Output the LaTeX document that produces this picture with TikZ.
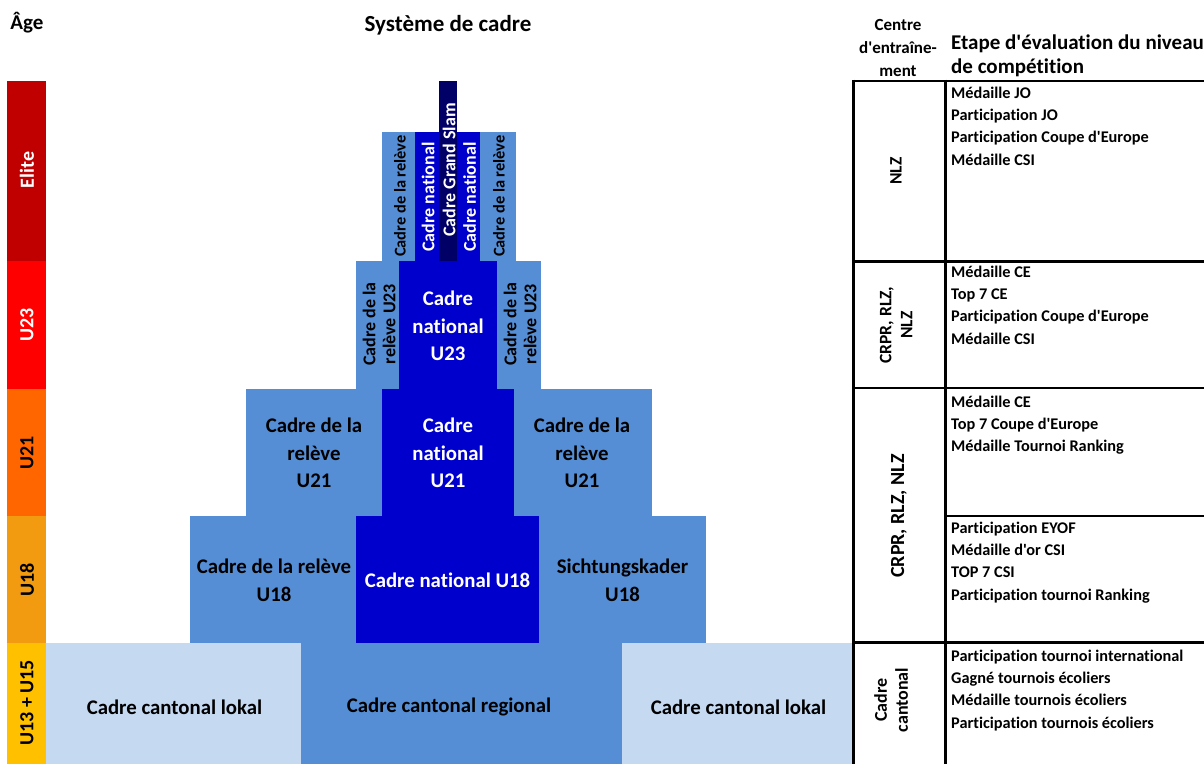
\documentclass[tikz,border=0pt]{standalone}
\usepackage{fontspec}
\setmainfont{Carlito}[Ligatures={TeXOff,CommonOff}]
\definecolor{eliteage}{HTML}{C00000}
\definecolor{xxiiiage}{HTML}{FF0000}
\definecolor{xxiage}{HTML}{FF6600}
\definecolor{xviiiage}{HTML}{F29B11}
\definecolor{xvage}{HTML}{FFC000}
\definecolor{relblue}{HTML}{558ED5}
\definecolor{natblue}{HTML}{0000CC}
\definecolor{slamblue}{HTML}{000066}
\definecolor{cantblue}{HTML}{C5D9F1}

\begin{document}
\begin{tikzpicture}[x=1pt, y=-1pt,
  txt/.style={inner sep=0pt, align=center, font=\bfseries\fontsize{20.8}{27.5}\selectfont},
  ntxt/.style={txt, text=white},
  vtxt/.style={inner sep=0pt, align=center, rotate=90, font=\bfseries\fontsize{18}{20}\selectfont},
  agetxt/.style={inner sep=0pt, rotate=90, font=\bfseries\fontsize{20}{24}\selectfont},
  evaltxt/.style={inner sep=0pt, align=left, anchor=north west, font=\bfseries\fontsize{16.3}{22.3}\selectfont},
  centretxt/.style={inner sep=0pt, align=center, rotate=90, font=\bfseries\fontsize{17.5}{21}\selectfont},
  tabline/.style={line width=2.8pt}]
  \useasboundingbox (0,0) rectangle (1204,764);

  % headings
  \node[anchor=base, inner sep=0pt, font=\bfseries\fontsize{21}{24}\selectfont] (agehead) at (27,29) {Âge};
  \node[anchor=base, inner sep=0pt, font=\bfseries\fontsize{23}{26}\selectfont] (systemhead) at (448,31) {Système de cadre};
  \node[anchor=north, inner sep=0pt, align=center, font=\bfseries\fontsize{17}{23}\selectfont] (centrehead) at (898,19) {Centre\\d'entraîne-\\ment};
  \node[anchor=north west, inner sep=0pt, align=left, font=\bfseries\fontsize{21}{23.5}\selectfont] (etapehead) at (951,35) {Etape d'évaluation du niveau\\de compétition};

  % age bar
  \fill[eliteage] (7,81) rectangle (46,261);
  \fill[xxiiiage] (7,261) rectangle (46,389);
  \fill[xxiage] (7,389) rectangle (46,516);
  \fill[xviiiage] (7,516) rectangle (46,643);
  \fill[xvage] (7,643) rectangle (46,764);
  \node[agetxt, text=white] (elite) at (27,170) {Elite};
  \node[agetxt, text=white] (uxxiii) at (27,325) {U23};
  \node[agetxt] (uxxi) at (27,453) {U21};
  \node[agetxt] (uxviii) at (27,580) {U18};
  \node[agetxt] (uxv) at (27,703) {U13 + U15};

  % cantonal level
  \fill[cantblue] (46,643) rectangle (301,764);
  \fill[relblue] (301,643) rectangle (622,764);
  \fill[cantblue] (622,643) rectangle (853,764);
  % U18
  \fill[relblue] (190,516) rectangle (706,643);
  \fill[natblue] (356,516) rectangle (539,643);
  % U21
  \fill[relblue] (246,389) rectangle (652,516);
  \fill[natblue] (382,389) rectangle (514,516);
  % U23
  \fill[relblue] (356,261) rectangle (541,389);
  \fill[natblue] (399,261) rectangle (497,389);
  % elite
  \fill[relblue] (382,132) rectangle (516,261);
  \fill[natblue] (415,132) rectangle (480,261);
  \fill[slamblue] (439,81) rectangle (457,261);

  \node[vtxt, font=\bfseries\fontsize{16.4}{20}\selectfont] (releliteleft) at (400,196) {Cadre de la relève};
  \node[vtxt, text=white] (nateliteleft) at (428,197) {Cadre national};
  \node[vtxt, text=white] (slam) at (449,170) {Cadre Grand Slam};
  \node[vtxt, text=white] (nateliteright) at (469.5,197) {Cadre national};
  \node[vtxt, font=\bfseries\fontsize{16.4}{20}\selectfont] (releliteright) at (499,196) {Cadre de la relève};

  \node[vtxt] (relxxiiileft) at (379,324) {Cadre de la\\relève U23};
  \node[ntxt] (natxxiii) at (448,326) {Cadre\\national\\U23};
  \node[vtxt] (relxxiiiright) at (520,324) {Cadre de la\\relève U23};

  \node[txt] (relxxileft) at (314,453) {Cadre de la\\relève\\U21};
  \node[ntxt] (natxxi) at (448,453) {Cadre\\national\\U21};
  \node[txt] (relxxiright) at (582,453) {Cadre de la\\relève\\U21};

  \node[txt] (relxviii) at (274,580.5) {Cadre de la relève\\U18};
  \node[ntxt] (natxviii) at (447.5,580.5) {Cadre national U18};
  \node[txt] (sichtung) at (622.5,580.5) {Sichtungskader\\U18};

  \node[txt] (lokalleft) at (174.5,707) {Cadre cantonal lokal};
  \node[txt] (regional) at (449,707) {Cadre cantonal regional};
  \node[txt] (lokalright) at (738.5,707) {Cadre cantonal lokal};

  % table
  \draw[tabline] (853.5,79.6) -- (853.5,764);
  \draw[tabline] (945.5,79.6) -- (945.5,764);
  \draw[tabline] (852.1,81) -- (1204,81);
  \draw[tabline] (853.5,261.5) -- (1204,261.5);
  \draw[tabline] (853.5,388) -- (1204,388);
  \draw[tabline] (945.5,516) -- (1204,516);
  \draw[tabline] (853.5,642.5) -- (1204,642.5);

  \node[centretxt] (nlzelite) at (896,171) {NLZ};
  \node[centretxt] (nlzxxiii) at (896,325) {CRPR, RLZ,\\NLZ};
  \node[centretxt, font=\bfseries\fontsize{20}{24}\selectfont] (nlzxxi) at (899,516) {CRPR, RLZ, NLZ};
  \node[centretxt, font=\bfseries\fontsize{18}{21}\selectfont] (cantonal) at (891,700) {Cadre\\cantonal};

  \node[evaltxt] (evalelite) at (951,86.5) {Médaille JO\\Participation JO\\Participation Coupe d'Europe\\Médaille CSI};
  \node[evaltxt] (evalxxiii) at (951,265.5) {Médaille CE\\Top 7 CE\\Participation Coupe d'Europe\\Médaille CSI};
  \node[evaltxt] (evalxxi) at (951,395.5) {Médaille CE\\Top 7 Coupe d'Europe\\Médaille Tournoi Ranking};
  \node[evaltxt] (evalxviii) at (951,521.5) {Participation EYOF\\Médaille d'or CSI\\TOP 7 CSI\\Participation tournoi Ranking};
  \node[evaltxt] (evalxv) at (951,649.5) {Participation tournoi international\\Gagné tournois écoliers\\Médaille tournois écoliers\\Participation tournois écoliers};
\end{tikzpicture}
\end{document}
